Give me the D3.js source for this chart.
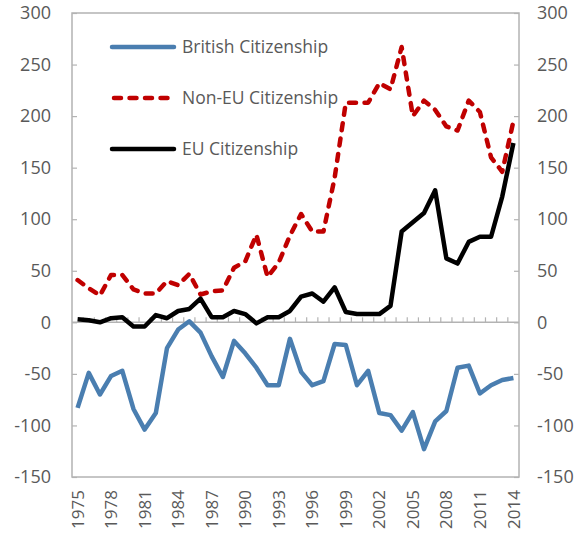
<!DOCTYPE html>
<html>
<head>
<meta charset="utf-8">
<script src="https://cdn.jsdelivr.net/npm/d3@7"></script>
<style>
  body { margin: 0; background: #fff; }
  text { font-family: "Open Sans", sans-serif; fill: #595959; }
</style>
</head>
<body>
<svg id="chart" width="585" height="535"></svg>
<script>
const years = d3.range(1975, 2015)
const labelYears = d3.range(1975, 2015, 3)
const yTicks = d3.range(-150, 301, 50)

const british = [-83, -49, -70, -52, -47, -84, -104, -88, -25, -7,
  1, -10, -33, -53, -18, -30, -44, -61, -61, -16,
  -48, -61, -57, -21, -22, -61, -47, -88, -90, -105,
  -87, -123, -96, -86, -44, -42, -69, -61, -56, -54]
const nonEU = [41, 33, 26, 46, 46, 32, 28, 28, 40, 36,
  47, 27, 30, 31, 53, 59, 85, 44, 58, 84,
  105, 88, 88, 140, 213, 213, 213, 232, 226, 267,
  200, 215, 206, 190, 186, 215, 204, 160, 146, 195]
const eu = [3, 2, 0, 4, 5, -4, -4, 7, 4, 11,
  13, 23, 5, 5, 11, 8, -1, 5, 5, 11,
  25, 28, 20, 34, 10, 8, 8, 8, 16, 88,
  97, 106, 128, 62, 57, 78, 83, 83, 122, 174]

const seriesNames = ['British Citizenship', 'Non-EU Citizenship', 'EU Citizenship']
const seriesColors = ['#4a7eb0', '#c00000', '#000000']

const plotLeft = 72, plotRight = 519, plotTop = 13, plotBottom = 477
const svg = d3.select('#chart')

const xScale = d3.scaleBand().domain(years).range([plotLeft, plotRight])
const yScale = d3.scaleLinear().domain([-150, 300]).range([plotBottom, plotTop])
const xMid = (d) => xScale(d) + xScale.bandwidth() / 2

// frame
svg.append('rect')
  .attr('x', plotLeft).attr('y', plotTop)
  .attr('width', plotRight - plotLeft).attr('height', plotBottom - plotTop)
  .attr('fill', 'none').attr('stroke', '#b3b3b3').attr('stroke-width', 1.5)

// left / right axes (plain hyphen for negatives, as in the source)
const fmt = (d) => String(d)
const yAxisLeft = d3.axisLeft(yScale).tickValues(yTicks).tickFormat(fmt).tickSize(-5).tickPadding(21)
const yAxisRight = d3.axisRight(yScale).tickValues(yTicks).tickFormat(fmt).tickSize(-5).tickPadding(18)
svg.append('g').attr('transform', `translate(${plotLeft},0)`).call(yAxisLeft)
svg.append('g').attr('transform', `translate(${plotRight},0)`).call(yAxisRight)

// zero line with category ticks
const zeroY = yScale(0)
svg.append('line').attr('x1', plotLeft).attr('x2', plotRight).attr('y1', zeroY).attr('y2', zeroY)
  .attr('stroke', '#b3b3b3').attr('stroke-width', 1.5)
svg.append('g').selectAll('line')
  .data(years.slice(1))
  .join('line')
  .attr('x1', (d) => xScale(d)).attr('x2', (d) => xScale(d))
  .attr('y1', zeroY).attr('y2', zeroY - 5)
  .attr('stroke', '#b3b3b3').attr('stroke-width', 1.2)

// year labels
const xAxis = d3.axisBottom(xScale).tickValues(labelYears).tickSize(0).tickPadding(0)
const xg = svg.append('g').attr('transform', `translate(0,${plotBottom})`).call(xAxis)

svg.selectAll('.domain').remove()
svg.selectAll('.tick line').attr('stroke', '#b3b3b3').attr('stroke-width', 1.2)
svg.selectAll('.tick text').style('font-size', '18px').attr('fill', '#595959')

xg.selectAll('text')
  .attr('transform', 'rotate(-90)')
  .attr('text-anchor', 'end')
  .attr('x', -13).attr('y', 0).attr('dy', '0.36em').attr('dx', 0)
  .style('font-size', '17px')

// lines
const line = d3.line().x((d, i) => xMid(years[i])).y((d) => yScale(d))
const seriesData = [british, nonEU, eu]
seriesData.forEach((s, i) => {
  const p = svg.append('path').datum(s)
    .attr('d', line)
    .attr('fill', 'none')
    .attr('stroke', seriesColors[i])
    .attr('stroke-width', 4.5)
    .attr('stroke-linejoin', 'round')
  if (i === 1) p.attr('stroke-dasharray', '7,8.5').attr('stroke-linecap', 'round')
})

// legend
const legend = svg.append('g')
seriesNames.forEach((name, i) => {
  const ly = 47 + i * 51
  const l = legend.append('line')
    .attr('x1', 112).attr('x2', 174).attr('y1', ly).attr('y2', ly)
    .attr('stroke', seriesColors[i]).attr('stroke-width', 4.5).attr('stroke-linecap', 'round')
  if (i === 1) l.attr('stroke-dasharray', '7,8.5').attr('x1', 114)
  legend.append('text').attr('x', 182).attr('y', ly).attr('dy', '0.35em')
    .style('font-size', '17.5px').text(name)
})
</script>
</body>
</html>
